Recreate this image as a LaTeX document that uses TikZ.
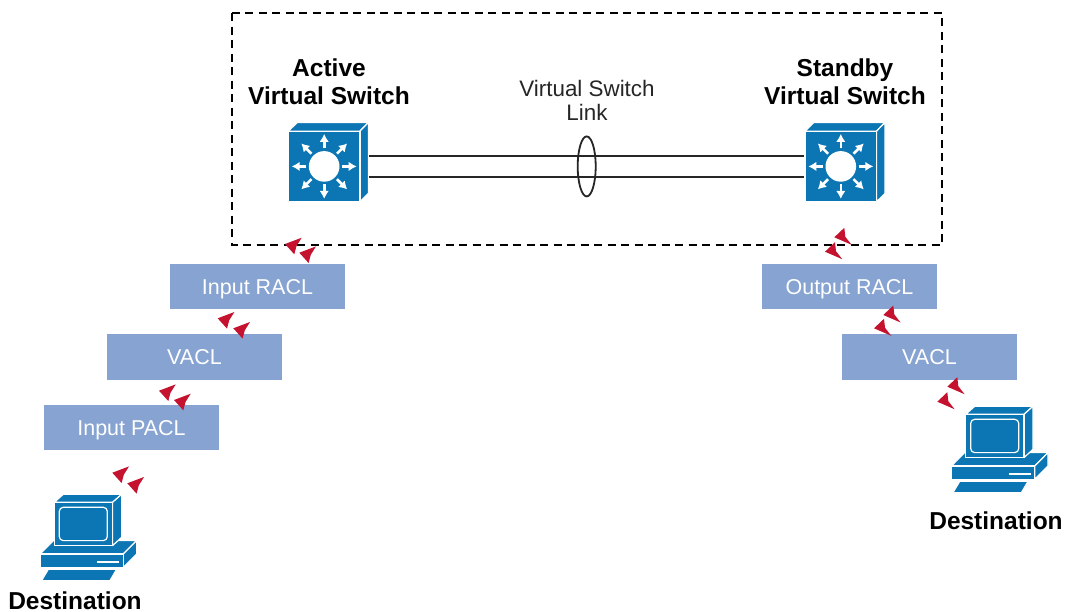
\documentclass[tikz,border=0pt]{standalone}
\usepackage{fontspec}
\setmainfont{Liberation Sans}
\usetikzlibrary{arrows.meta,shapes.geometric}
\definecolor{ciscoblue}{HTML}{0B76B3}
\definecolor{aclblue}{HTML}{86A3D1}
\definecolor{flowred}{HTML}{C4122F}
\tikzset{
  x=1pt,y=-1pt,
  aclbox/.style={fill=aclblue,draw=none,minimum width=175pt,minimum height=45.5pt,inner sep=0pt,text=white,text height=15.4pt,text depth=0pt,font=\fontsize{21.5}{24}\selectfont},
  boldlabel/.style={align=center,text=black,inner sep=0pt,font=\fontsize{24.5}{28}\selectfont\bfseries},
  linklabel/.style={align=center,text=black!85,inner sep=0pt,font=\fontsize{22.4}{24}\selectfont},
  iconline/.style={draw=white,fill=ciscoblue,line width=1.2pt,line join=round},
  link/.style={draw=black!85,line width=2pt},
  vssborder/.style={draw=black,line width=1.1pt,dash pattern=on 8pt off 5.5pt},
  pics/flowL/.style={code={\fill[flowred] (0,0)--(16.7,-6.3)--(11.5,2)--(9.3,10.3)--cycle;}},
  pics/flowR/.style={code={\fill[flowred] (0,0)--(10,-9.5)--(11,-0.5)--(17.3,7.5)--cycle;}},
  pics/ciscoswitch/.style={code={
    \path[iconline] (-35.8,-35.3)--(-26.8,-44)--(44.2,-44)--(35.8,-35.3)--cycle;
    \path[iconline] (35.8,-35.3)--(44.2,-44)--(44.2,27)--(35.8,35.3)--cycle;
    \path[iconline] (-35.8,-35.3) rectangle (35.8,35.3);
    \node[minimum width=71.6pt,minimum height=70.6pt,inner sep=0pt] (-body) at (0,0) {};
    \fill[white] (0,0) circle[radius=15.3];
    \foreach \a in {0,45,...,315}
      \draw[white,line width=2.6pt,-{Latex[length=8pt,width=9.5pt]}] (\a:18) -- (\a:32.5);
  }},
  pics/pcicon/.style={code={
    \path[iconline] (-14.3,51.7)--(-1,38.3)--(82.3,38.3)--(69,51.7)--cycle;
    \path[iconline] (69,51.7)--(82.3,38.3)--(82.3,51.7)--(69,65)--cycle;
    \path[iconline] (-14.3,51.7) rectangle (69,65);
    \draw[white,line width=1.8pt] (43,59.3)--(65,59.3);
    \path[iconline] (-6,67)--(62.3,67)--(55.7,78.3)--(-12.7,78.3)--cycle;
    \path[iconline] (0,0)--(9,-8)--(67.3,-8)--(58.3,0)--cycle;
    \path[iconline] (58.3,0)--(67.3,-8)--(67.3,35)--(58.3,43.3)--cycle;
    \path[iconline] (0,0) rectangle (58.3,43.3);
    \draw[white,line width=1.2pt,rounded corners=4pt] (5,5) rectangle (53,38.3);
  }},
}
\begin{document}
\begin{tikzpicture}
\useasboundingbox (0,0) rectangle (1065,611);
\fill[white] (0,0) rectangle (1065,611);
% switches
\pic (swA) at (324.2,166.4) {ciscoswitch};
\pic (swB) at (840.8,166.4) {ciscoswitch};
% links
\coordinate (lnkA1) at ([xshift=9pt,yshift=10.5pt]swA-body.east);
\coordinate (lnkA2) at ([xshift=9pt,yshift=-10.5pt]swA-body.east);
\coordinate (lnkB1) at ([xshift=-1pt,yshift=10.5pt]swB-body.west);
\coordinate (lnkB2) at ([xshift=-1pt,yshift=-10.5pt]swB-body.west);
\draw[link] (lnkA1) -- (lnkB1);
\draw[link] (lnkA2) -- (lnkB2);
\node[draw=black!85,line width=1.8pt,ellipse,minimum width=18pt,minimum height=60pt,inner sep=0pt] (bundle) at (586.7,166.4) {};
% border
\draw[vssborder] (232,13) rectangle (942,245);
% labels
\node[boldlabel] (lblA) at (329,82) {Active\\Virtual Switch};
\node[boldlabel] (lblB) at (845,82) {Standby\\Virtual Switch};
\node[linklabel] (lblL) at (587,100) {Virtual Switch\\Link};
% boxes
\node[aclbox] (irACL) at (257.5,286.5) {Input RACL};
\node[aclbox] (vACLa) at (194.5,357) {VACL};
\node[aclbox] (ipACL) at (131.5,427.5) {Input PACL};
\node[aclbox] (orACL) at (849.5,286.5) {Output RACL};
\node[aclbox] (vACLb) at (929.5,357) {VACL};
% computers
\pic (pcA) at (54.3,502.3) {pcicon};
\pic (pcB) at (965.7,414.3) {pcicon};
\node[boldlabel] (dstA) at (75,600.5) {Destination};
\node[boldlabel] (dstB) at (996,521) {Destination};
% flow arrowheads
\pic at (285,244) {flowL};
\pic at (299.3,252.7) {flowL};
\pic at (217.7,318.3) {flowL};
\pic at (233.3,328.3) {flowL};
\pic at (159,390.7) {flowL};
\pic at (174,400) {flowL};
\pic at (112.3,472.7) {flowL};
\pic at (127.3,483.3) {flowL};
\pic at (834.3,237.3) {flowR};
\pic at (825,251.7) {flowR};
\pic at (883.3,315) {flowR};
\pic at (874,328.3) {flowR};
\pic at (947.3,386.7) {flowR};
\pic at (937.3,401.7) {flowR};
\end{tikzpicture}
\end{document}
